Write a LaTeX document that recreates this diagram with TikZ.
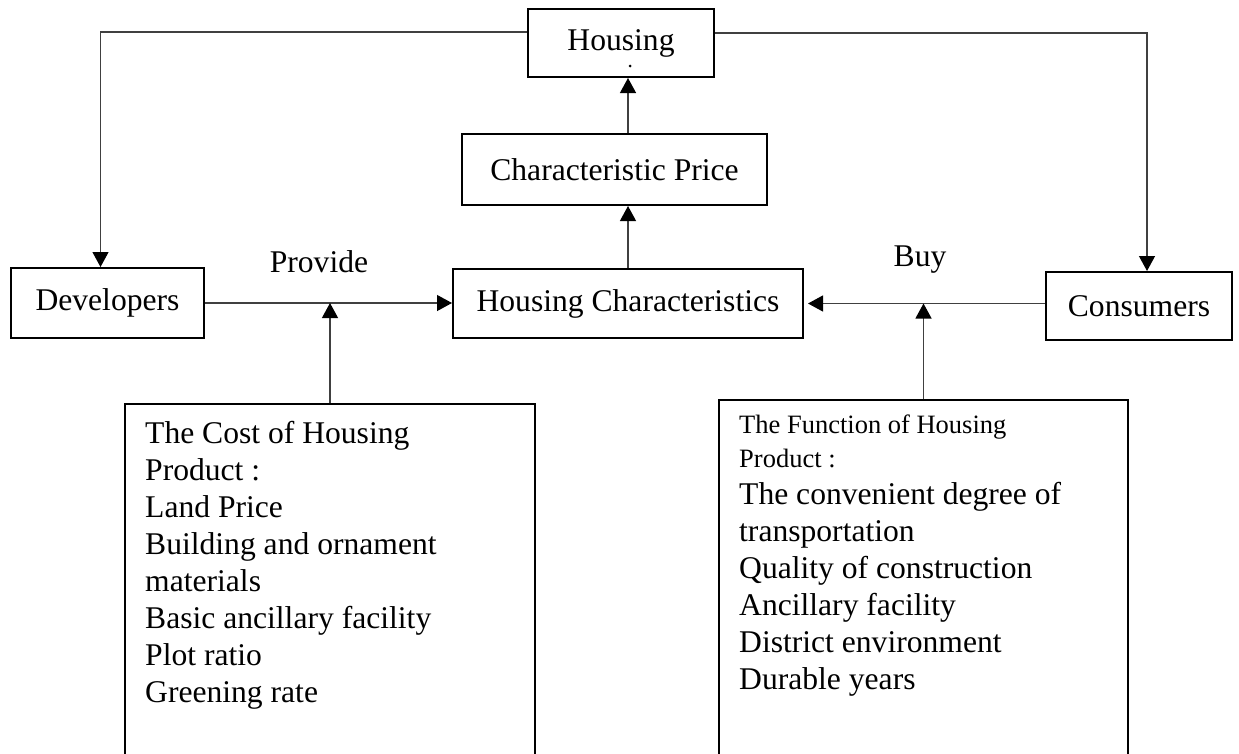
\documentclass[tikz,border=0pt]{standalone}
\usepackage{fontspec}
\setmainfont{Liberation Serif}
\usetikzlibrary{arrows.meta}

\begin{document}
\begin{tikzpicture}[x=1pt,y=-1pt,
    box/.style={draw,line width=2pt,inner sep=0pt,font=\fontsize{31.6}{37}\selectfont},
    words/.style={inner sep=0pt,align=left,anchor=north west,font=\fontsize{31.6}{37}\selectfont},
    conn/.style={line width=1.2pt,draw=black!75},
    tip/.style={-{Triangle[length=15pt,width=16pt,black]}}]
    \useasboundingbox (0,0) rectangle (1239,753);
    \clip (0,0) rectangle (1239,753);
    % top row
    \node[box,minimum width=186pt,minimum height=68pt] (housing) at (621,43) {\raisebox{2pt}{Housing}};
    \node[circle,fill=black,inner sep=0pt,minimum size=3pt] (hdot) at (630,66) {};
    \node[box,minimum width=305pt,minimum height=71pt] (cp) at (614.5,169.5) {Characteristic Price};
    % middle row
    \node[box,minimum width=193pt,minimum height=70pt] (dev) at (107.5,303) {Developers};
    \node[box,minimum width=350pt,minimum height=69pt] (hc) at (628,303.5) {Housing Characteristics};
    \node[box,minimum width=186pt,minimum height=68pt] (cons) at (1139,306) {Consumers};
    \node[inner sep=0pt,font=\fontsize{31.6}{37}\selectfont] (provide) at (319,262) {Provide};
    \node[inner sep=0pt,font=\fontsize{31.6}{37}\selectfont] (buy) at (920,260) {Buy};
    % lower panels, cut off at the bottom
    \node[box,anchor=north west,minimum width=410pt,minimum height=400pt] (cost) at (124,403) {};
    \node[words] (costtext) at (145,421) {The Cost of Housing\\ Product :\\ Land Price\\
        Building and ornament\\ materials\\ Basic ancillary facility\\ Plot ratio\\ Greening rate};
    \node[box,anchor=north west,minimum width=409pt,minimum height=400pt] (func) at (718,399) {};
    \node[words] (functext) at (739,415) {{\fontsize{26.5}{34}\selectfont The Function of Housing}\\[-3pt]
        {\fontsize{26.5}{34}\selectfont Product :}\\ The convenient degree of\\ transportation\\
        Quality of construction\\ Ancillary facility\\ District environment\\ Durable years};
    % connectors
    \draw[conn,tip] ([yshift=11pt]housing.west) -| ([xshift=-7pt]dev.north);
    \draw[conn,tip] ([yshift=10pt]housing.east) -| ([xshift=8pt]cons.north);
    \draw[conn,tip] (cp.north -| hc.north) -- (housing.south -| hc.north);
    \draw[conn,tip] (hc.north) -- (cp.south -| hc.north);
    \draw[conn,tip] (dev.east) -- (dev.east -| hc.west);
    \draw[conn,tip] (hc.east -| cons.west) -- ([xshift=4pt]hc.east);
    \draw[conn,tip] (cost.north) -- (cost.north |- dev.east);
    \draw[conn,tip] (func.north) -- (func.north |- hc.east);
\end{tikzpicture}
\end{document}
